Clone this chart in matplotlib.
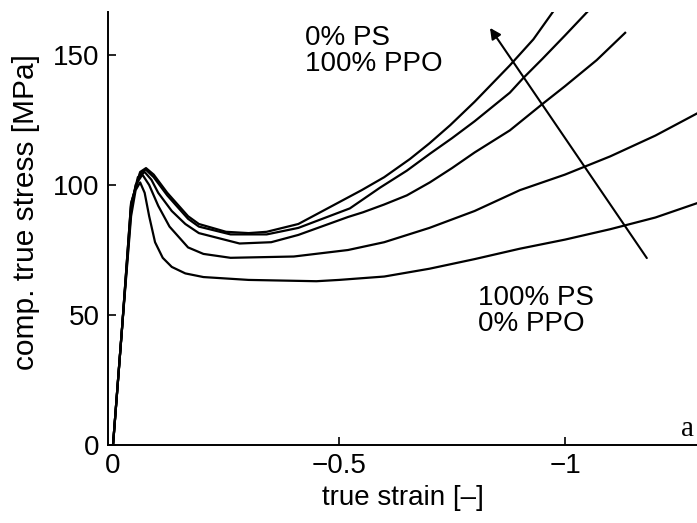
import numpy as np
import matplotlib.pyplot as plt

plt.rcParams['font.family'] = ['Liberation Sans', 'DejaVu Sans']

# true strain / compressive true stress
# top curve: 0% PS / 100% PPO ... bottom curve: 100% PS / 0% PPO
strain_a = [0, -0.02, -0.04, -0.06, -0.073, -0.09, -0.12, -0.166, -0.19, -0.25,
            -0.3, -0.34, -0.41, -0.48, -0.55, -0.6, -0.657, -0.7, -0.746, -0.8,
            -0.878, -0.93, -0.973]
stress_a = [0, 45, 93, 105, 106.5, 104, 97, 88, 85, 82,
            81.5, 82, 85, 91.5, 98, 103, 110, 116, 123, 132,
            146, 156, 166.5]

strain_b = [0, -0.02, -0.04, -0.06, -0.072, -0.09, -0.12, -0.166, -0.19, -0.26,
            -0.34, -0.41, -0.524, -0.591, -0.65, -0.701, -0.75, -0.8, -0.878, -0.907,
            -0.95, -1.0, -1.049]
stress_b = [0, 45, 93, 104.5, 106, 103, 96, 87, 84, 81,
            81, 83.5, 91, 99, 105.5, 112, 118, 124.5, 135.5, 141,
            148.5, 157.5, 166.5]

strain_c = [0, -0.02, -0.04, -0.055, -0.07, -0.085, -0.1, -0.13, -0.16, -0.19,
            -0.28, -0.35, -0.41, -0.52, -0.553, -0.6, -0.65, -0.701, -0.75, -0.8,
            -0.878, -0.949, -1.0, -1.07, -1.133]
stress_c = [0, 45, 92, 103, 105, 102, 97, 90, 85, 81.5,
            77.5, 78, 80.8, 87.7, 89.5, 92.5, 96, 101, 106.5, 112.5,
            121, 131, 138, 148, 158.5]

strain_d = [0, -0.02, -0.04, -0.05, -0.065, -0.08, -0.1, -0.125, -0.166, -0.2,
            -0.26, -0.4, -0.52, -0.6, -0.7, -0.8, -0.9, -1.0, -1.1, -1.2,
            -1.292]
stress_d = [0, 45, 90, 100, 104, 100, 92, 84, 76, 73.5,
            72, 72.5, 75, 78, 83.5, 90, 98, 104, 111, 119,
            127.5]

strain_e = [0, -0.02, -0.04, -0.05, -0.06, -0.07, -0.08, -0.093, -0.11, -0.13,
            -0.16, -0.2, -0.3, -0.45, -0.5, -0.6, -0.7, -0.8, -0.9, -1.0,
            -1.1, -1.2, -1.292]
stress_e = [0, 45, 88, 98, 101, 97, 88, 78, 72, 68.5,
            66, 64.6, 63.5, 63, 63.5, 64.8, 67.8, 71.5, 75.5, 79,
            83, 87.5, 93]

curves = [(strain_a, stress_a), (strain_b, stress_b), (strain_c, stress_c),
          (strain_d, stress_d), (strain_e, stress_e)]

fig = plt.figure(figsize=(6.97, 5.23), dpi=100)
ax = fig.add_axes([0.155, 0.149, 0.845, 0.828])

for x, y in curves:
    ax.plot(x, y, color='black', lw=1.6)

# arrow pointing towards increasing PPO content
ax.annotate('', xy=(-0.834, 160.4), xytext=(-1.181, 71.9),
            arrowprops=dict(arrowstyle='-|>', color='black', lw=1.5,
                            mutation_scale=16, shrinkA=0, shrinkB=0))

fs = 20
ax.text(-0.425, 161.5, '0% PS\n100% PPO', ha='left', va='top', fontsize=fs, linespacing=1.0)
ax.text(-0.807, 61.5, '100% PS\n0% PPO', ha='left', va='top', fontsize=fs, linespacing=1.0)
ax.text(-1.272, 3.5, 'a', ha='center', va='baseline', fontsize=21,
        family=['Liberation Serif', 'DejaVu Serif'])

ax.set_xlim(0.011, -1.292)
ax.set_ylim(0, 166.5)
ax.set_xticks([0, -0.5, -1])
ax.set_xticklabels(['0', '\u22120.5', '\u22121'])
ax.set_yticks([0, 50, 100, 150])
ax.tick_params(direction='in', length=6, width=1.2, labelsize=fs, pad=6)

for side in ['top', 'right']:
    ax.spines[side].set_visible(False)
for side in ['left', 'bottom']:
    ax.spines[side].set_linewidth(1.4)

ax.set_xlabel('true strain [\u2013]', fontsize=fs, labelpad=4)
ax.set_ylabel('comp. true stress [MPa]', fontsize=21.5)
ax.yaxis.set_label_coords(-0.116, 0.538)

fig.savefig('out.png', dpi=100)
